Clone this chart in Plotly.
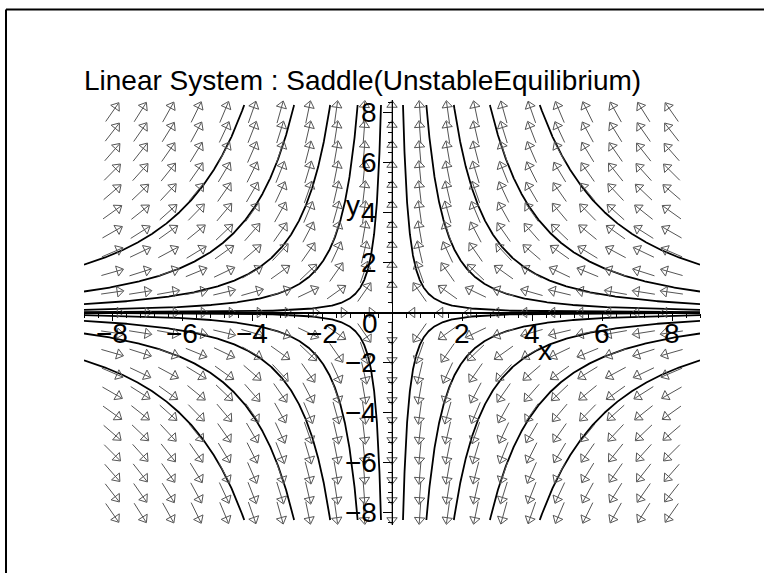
import numpy as np
import plotly.graph_objects as go

# ---- data ----
# linear system  x' = LAMBDA_X * x ,  y' = LAMBDA_Y * y   (saddle)
LAMBDA_X = -1.0
LAMBDA_Y = 2.0
# trajectories: x-position where each curve crosses y = 8 (mirrored into all 4 quadrants)
traj_x_at_y8 = [0.32, 1.0, 1.8, 2.85, 4.3]
traj_y_start = 8.0
# direction-field grid
arrow_x = [-8.0, -7.2, -6.4, -5.6, -4.8, -4.0, -3.2, -2.4, -1.6, -0.8, 0.0,
           0.8, 1.6, 2.4, 3.2, 4.0, 4.8, 5.6, 6.4, 7.2, 8.0]
arrow_y = list(arrow_x)
# tick labels
x_ticks = [-8, -6, -4, -2, 2, 4, 6, 8]
y_ticks = [-8, -6, -4, -2, 2, 4, 6, 8]
title_text = "Linear System : Saddle(UnstableEquilibrium)"

X_RANGE = [-8.8, 8.8]
Y_RANGE = [-8.5, 8.5]
W, H = 764, 573
ML, MR, MT = 84, 64, 100
MB = H - MT - 425
PX_X = (W - ML - MR) / (X_RANGE[1] - X_RANGE[0])   # px per x unit
PX_Y = (H - MT - MB) / (Y_RANGE[1] - Y_RANGE[0])   # px per y unit

FONT = "Liberation Sans, Arial, Helvetica, sans-serif"
TXT = 28

fig = go.Figure()

# ---- trajectories (exact solutions of the linear system) ----
tx, ty = [], []
y_clip, x_clip = 8.3, 8.8
for x0 in traj_x_at_y8:
    t_lo = np.log(x_clip / x0) / LAMBDA_X
    t_hi = np.log(y_clip / traj_y_start) / LAMBDA_Y
    t = np.linspace(t_lo, t_hi, 500)
    xs = x0 * np.exp(LAMBDA_X * t)
    ys = traj_y_start * np.exp(LAMBDA_Y * t)
    for sx in (1, -1):
        for sy in (1, -1):
            tx += list(sx * xs) + [None]
            ty += list(sy * ys) + [None]
fig.add_trace(go.Scatter(x=tx, y=ty, mode="lines",
                         line=dict(color="black", width=1.8),
                         hoverinfo="skip", showlegend=False))

# ---- direction field arrows ----
L = 22.0  # arrow length in px
sx_, sy_, hx, hy, hang = [], [], [], [], []
for gx in arrow_x:
    for gy in arrow_y:
        u, v = LAMBDA_X * gx, LAMBDA_Y * gy
        if u == 0 and v == 0:
            continue
        us, vs = u * PX_X, v * PX_Y
        n = np.hypot(us, vs)
        dx, dy = us / n, vs / n
        x_t = gx - dx * L / 2 / PX_X
        y_t = gy - dy * L / 2 / PX_Y
        x_h = gx + dx * L / 2 / PX_X
        y_h = gy + dy * L / 2 / PX_Y
        sx_ += [x_t, x_h, None]
        sy_ += [y_t, y_h, None]
        back = 3.5
        hx.append(x_h - dx * back / PX_X)
        hy.append(y_h - dy * back / PX_Y)
        hang.append(np.degrees(np.arctan2(dx, dy)))
fig.add_trace(go.Scatter(x=sx_, y=sy_, mode="lines",
                         line=dict(color="#555555", width=1),
                         hoverinfo="skip", showlegend=False))
fig.add_trace(go.Scatter(x=hx, y=hy, mode="markers",
                         marker=dict(symbol="triangle-up-open", size=9,
                                     angle=hang, color="#555555",
                                     line=dict(width=1, color="#555555")),
                         hoverinfo="skip", showlegend=False))

# ---- tick labels & axis labels ----
ann = []
for v in x_ticks:
    ann.append(dict(x=v, y=-0.82, xref="x", yref="y", showarrow=False,
                    text=(f"\u2212{abs(v)}" if v < 0 else str(v)),
                    font=dict(size=TXT, color="black", family=FONT),
                    xanchor="center", yanchor="middle"))
for v in y_ticks:
    ann.append(dict(x=-0.38, y=v, xref="x", yref="y", showarrow=False,
                    text=(f"\u2212{abs(v)}" if v < 0 else str(v)),
                    font=dict(size=TXT, color="black", family=FONT),
                    xanchor="right", yanchor="middle"))
ann.append(dict(x=-0.63, y=-0.42, xref="x", yref="y", showarrow=False, text="0",
                font=dict(size=TXT, color="black", family=FONT),
                xanchor="center", yanchor="middle"))
ann.append(dict(x=4.37, y=-1.5, xref="x", yref="y", showarrow=False, text="x",
                font=dict(size=TXT, color="black", family=FONT),
                xanchor="center", yanchor="middle"))
ann.append(dict(x=-1.11, y=4.3, xref="x", yref="y", showarrow=False, text="y",
                font=dict(size=TXT, color="black", family=FONT),
                xanchor="center", yanchor="middle"))

# outer frame: only its top and left edges fall inside the page
pw, ph = W - ML - MR, H - MT - MB
fx0, fy_top = (6 - ML) / pw, (H - MB - 9.5) / ph
fx1, fy_bot = (W - ML) / pw, (H - MB - H) / ph
shapes = [
    dict(type="line", xref="paper", yref="paper", x0=fx0, x1=fx1,
         y0=fy_top, y1=fy_top, line=dict(color="black", width=2), layer="above"),
    dict(type="line", xref="paper", yref="paper", x0=fx0, x1=fx0,
         y0=fy_top, y1=fy_bot, line=dict(color="black", width=2), layer="above"),
]

fig.update_layout(
    width=W, height=H,
    margin=dict(l=ML, r=MR, t=MT, b=MB),
    paper_bgcolor="white", plot_bgcolor="white",
    showlegend=False,
    title=dict(text=title_text, x=84 / W, xanchor="left", xref="container",
               y=1 - 80 / H, yanchor="middle", yref="container",
               font=dict(size=TXT, color="black", family=FONT)),
    annotations=ann, shapes=shapes,
    xaxis=dict(range=X_RANGE, anchor="free", position=0.5,
               showline=True, linecolor="black", linewidth=2,
               ticks="outside", ticklen=7, tickwidth=1, tickcolor="black",
               tick0=0, dtick=2, showticklabels=False,
               showgrid=False, zeroline=False,
               minor=dict(ticks="outside", ticklen=4, tickwidth=1,
                          tickcolor="black", tick0=0, dtick=0.4, showgrid=False)),
    yaxis=dict(range=Y_RANGE, anchor="free", position=0.5,
               showline=True, linecolor="black", linewidth=1,
               ticks="outside", ticklen=9, tickwidth=1, tickcolor="black",
               tick0=0, dtick=2, showticklabels=False,
               showgrid=False, zeroline=False,
               minor=dict(ticks="outside", ticklen=4, tickwidth=1,
                          tickcolor="black", tick0=0, dtick=0.4, showgrid=False)),
)

fig.write_html(
    "out.html", config={"displayModeBar": False},
    post_script=("document.body.style.margin='0px';"
                 "document.body.style.overflow='hidden';"
                 "document.documentElement.style.overflow='hidden';"))
